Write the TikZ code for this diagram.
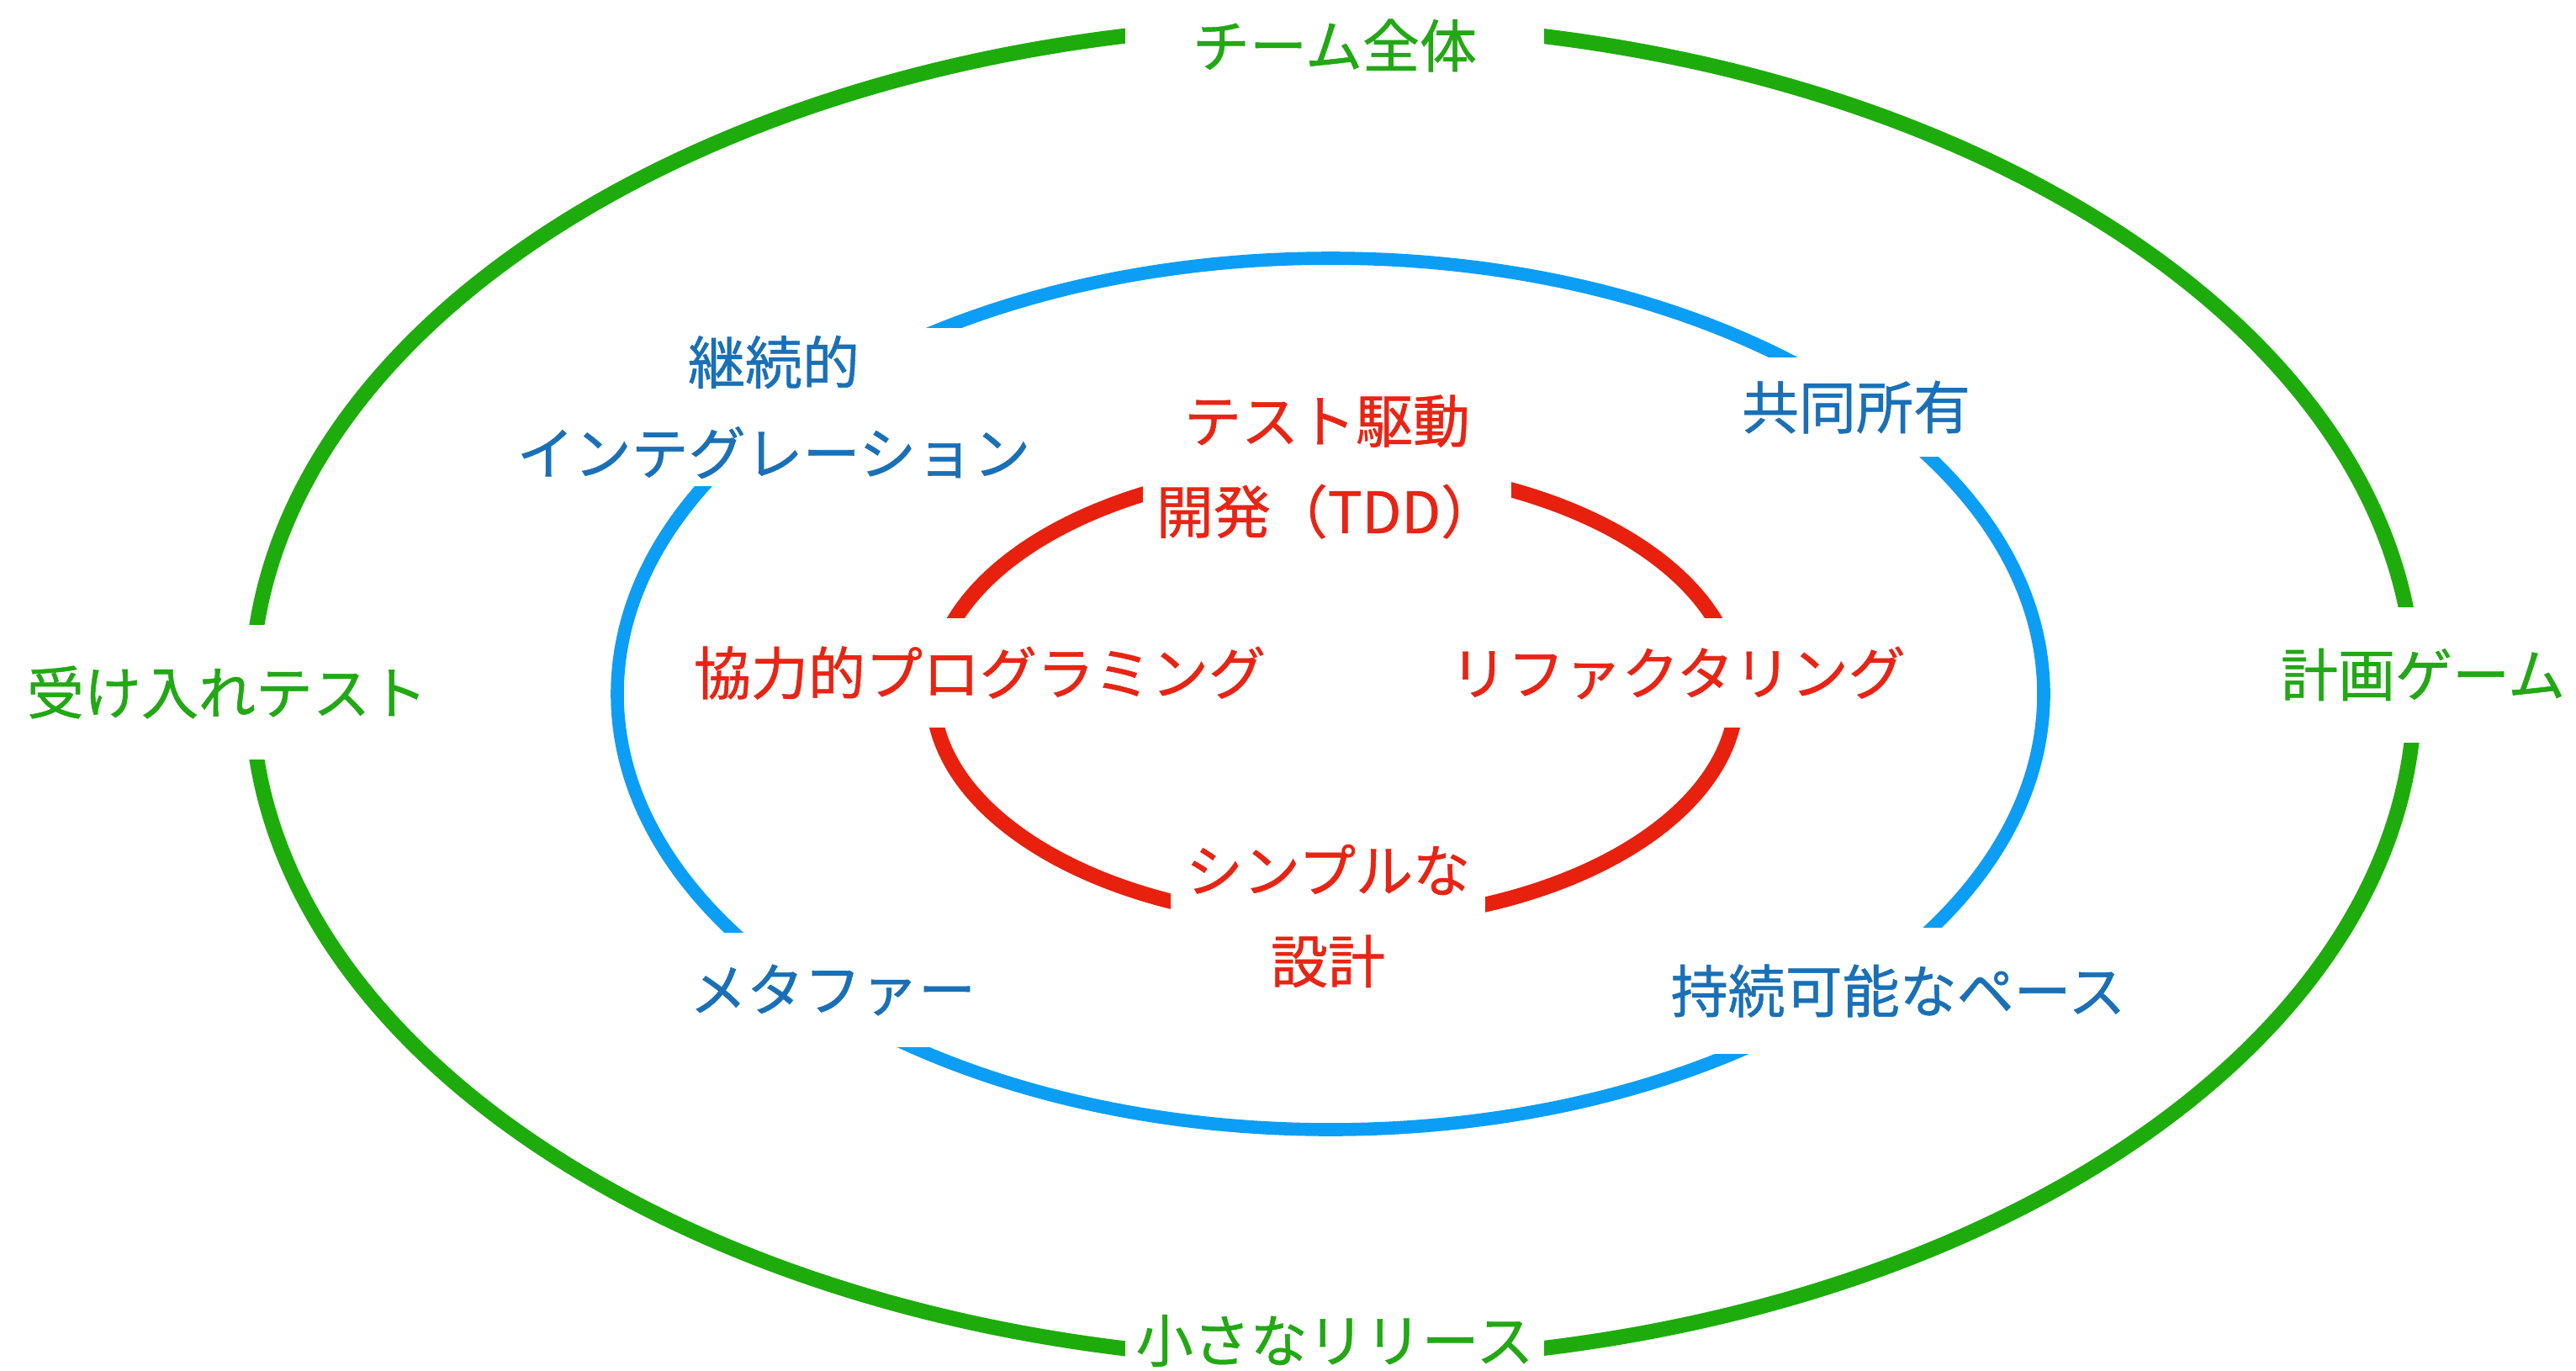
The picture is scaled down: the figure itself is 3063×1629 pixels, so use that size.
\documentclass[tikz,border=0pt]{standalone}
\usepackage{fontspec}
\setmainfont{Noto Sans CJK JP}
\newfontfamily\labfont{Noto Sans CJK JP}[FakeBold=0.8]
\definecolor{gline}{RGB}{30,172,12}
\definecolor{gtext}{RGB}{34,168,20}
\definecolor{bline}{RGB}{12,158,245}
\definecolor{btext}{RGB}{26,112,182}
\definecolor{rline}{RGB}{232,32,14}
\definecolor{rtext}{RGB}{232,36,20}
\begin{document}
\begin{tikzpicture}[x=0.25pt,y=-0.25pt,
  lab/.style={fill=white, inner sep=0pt, align=center, font=\labfont\fontsize{17pt}{27pt}\selectfont},
  gapbox/.style n args={2}{minimum width={#1*0.25pt}, minimum height={#2*0.25pt}},
  glab/.style={lab, text=gtext},
  blab/.style={lab, text=btext},
  rlab/.style={lab, text=rtext},
  gring/.style={draw=gline, line width=4.5pt},
  bring/.style={draw=bline, line width=3.9pt},
  rring/.style={draw=rline, line width=4.5pt}]
\fill[white] (0,0) rectangle (3063,1629);
\useasboundingbox (0,0) rectangle (3063,1629);
% rings
\draw[gring] (1585,823) ellipse [x radius=1286, y radius=795];
\draw[bring] (1582,825) ellipse [x radius=848, y radius=518];
\draw[rring] (1587,825) ellipse [x radius=478, y radius=270];
% outer labels
\node[glab, gapbox={498}{100}] (team) at (1587,54) {チーム全体};
\node[glab, gapbox={498}{100}] (small) at (1587,1594) {小さなリリース};
\node[glab, gapbox={540}{160}] (accept) at (270,823) {受け入れテスト};
\node[glab, gapbox={363}{161}] (plan) at (2881,802) {計画ゲーム};
% middle labels
\node[blab, gapbox={660}{188}] (ci) at (920,484) {継続的\\インテグレーション};
\node[blab, gapbox={315}{118}] (own) at (2207,484) {共同所有};
\node[blab, gapbox={380}{136}] (meta) at (990,1177) {メタファー};
\node[blab, gapbox={585}{150}] (pace) at (2257,1178) {持続可能なペース};
% inner labels
\node[rlab, gapbox={438}{230}] (tdd) at (1578,555) {テスト駆動\\開発（TDD）};
\node[rlab, gapbox={374}{220}] (simple) at (1579,1089) {シンプルな\\設計};
\node[rlab, gapbox={730}{130}] (pair) at (1165,800) {協力的プログラミング};
\node[rlab, gapbox={580}{130}] (refac) at (1995,800) {リファクタリング};
\end{tikzpicture}
\end{document}
